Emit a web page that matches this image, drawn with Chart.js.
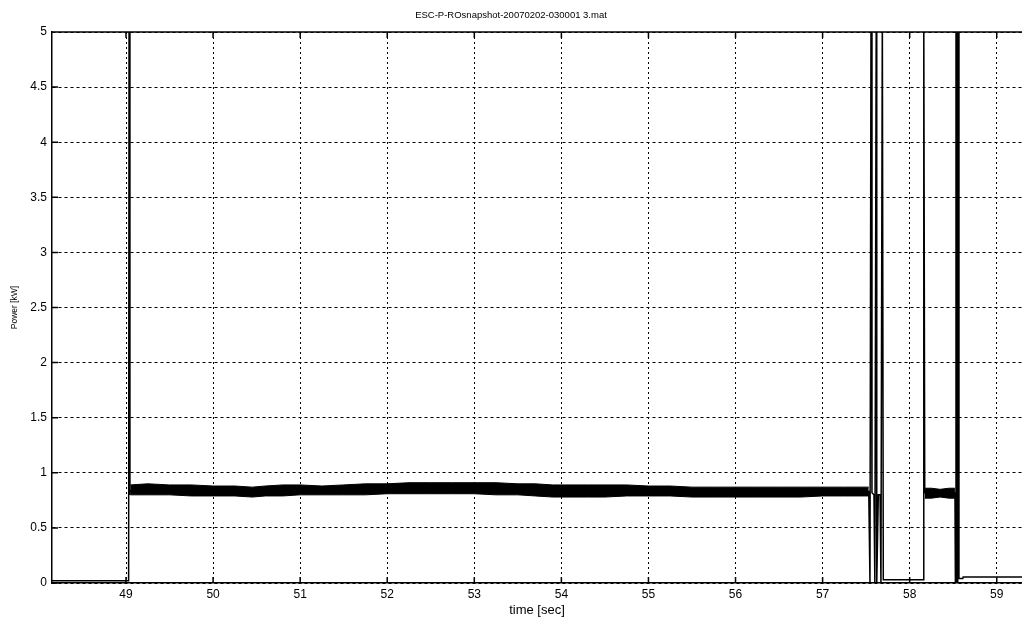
<!DOCTYPE html>
<html>
<head>
<meta charset="utf-8">
<title>ESC-P-ROsnapshot power</title>
<script src="https://cdn.jsdelivr.net/npm/chart.js@4/dist/chart.umd.min.js"></script>
<style>
  html, body { margin: 0; padding: 0; background: #fff; }
  canvas { display: block; }
</style>
</head>
<body>
<canvas id="powerChart" width="1022" height="617"></canvas>
<script>
// tick labels
const xTicks = [49, 50, 51, 52, 53, 54, 55, 56, 57, 58, 59];
const yTicks = [0, 0.5, 1, 1.5, 2, 2.5, 3, 3.5, 4, 4.5, 5];

// main trace: idle, switch-on spike, switching burst at ~57.6 s, off at ~58.55 s
const traceTime = [48.15, 49.03, 49.035, 49.045, 49.05, 57.53, 57.544, 57.556, 57.567, 57.59, 57.6,
  57.616, 57.622, 57.64, 57.66, 57.67, 57.686, 57.697, 58.155, 58.162, 58.173, 58.52, 58.525,
  58.532, 58.538, 58.545, 58.552, 58.558, 58.566, 58.61, 58.615, 59.29];
const tracePower = [0.02, 0.02, 5.2, 0.8, 0.84, 0.83, 0.0, 5.2, 0.82, 0.8, 0.0,
  5.2, 0.0, 0.8, 0.8, 0.0, 5.2, 0.03, 0.03, 5.2, 0.82, 0.82, 0.0,
  5.2, 0.0, 5.2, 0.0, 5.2, 0.04, 0.04, 0.055, 0.055];

// noisy running band (upper / lower envelope), 49.05 .. 57.53 s
const bandTime = [49.05, 49.25, 49.5, 49.75, 50.0, 50.25, 50.45, 50.6, 50.8, 51.0, 51.25, 51.5,
  51.75, 52.0, 52.25, 52.5, 52.75, 53.0, 53.25, 53.5, 53.7, 53.9, 54.1, 54.3, 54.5, 54.75, 55.0,
  55.25, 55.5, 55.75, 56.0, 56.25, 56.5, 56.75, 57.0, 57.25, 57.53];
const bandHigh = [0.89, 0.9, 0.89, 0.89, 0.88, 0.88, 0.87, 0.88, 0.89, 0.89, 0.88, 0.89,
  0.9, 0.9, 0.91, 0.91, 0.91, 0.91, 0.91, 0.9, 0.9, 0.89, 0.89, 0.89, 0.89, 0.89, 0.88,
  0.88, 0.87, 0.87, 0.87, 0.87, 0.87, 0.87, 0.87, 0.87, 0.87];
const bandLow = [0.8, 0.8, 0.8, 0.79, 0.79, 0.79, 0.78, 0.79, 0.79, 0.8, 0.8, 0.8,
  0.8, 0.81, 0.81, 0.81, 0.81, 0.81, 0.8, 0.8, 0.79, 0.78, 0.78, 0.78, 0.78, 0.79, 0.79,
  0.79, 0.78, 0.78, 0.78, 0.78, 0.78, 0.78, 0.79, 0.79, 0.79];

// short second band between 58.17 and 58.52 s
const band2Time = [58.173, 58.25, 58.35, 58.45, 58.52];
const band2High = [0.86, 0.86, 0.85, 0.86, 0.86];
const band2Low = [0.77, 0.77, 0.78, 0.77, 0.77];

const pts = (xs, ys) => xs.map((x, i) => ({ x: x, y: ys[i] }));

// MATLAB-like box: top edge and inward tick marks
const frame = {
  id: "frame",
  afterDatasetsDraw(chart) {
    const { ctx, chartArea: a, scales: { x, y } } = chart;
    ctx.save();
    ctx.strokeStyle = "#000";
    ctx.lineWidth = 1.5;
    ctx.beginPath();
    ctx.moveTo(a.left, a.top);
    ctx.lineTo(a.right, a.top);
    yTicks.forEach((v) => {
      const py = y.getPixelForValue(v);
      ctx.moveTo(a.left, py);
      ctx.lineTo(a.left + 6, py);
    });
    xTicks.forEach((v) => {
      const px = x.getPixelForValue(v);
      ctx.moveTo(px, a.bottom);
      ctx.lineTo(px, a.bottom - 6);
      ctx.moveTo(px, a.top);
      ctx.lineTo(px, a.top + 6);
    });
    ctx.stroke();
    ctx.restore();
  },
};

const ctx = document.getElementById("powerChart").getContext("2d");
new Chart(ctx, {
  type: "line",
  data: {
    datasets: [
      { data: pts(traceTime, tracePower), borderColor: "#000", borderWidth: 1.5, pointRadius: 0, fill: false, order: 0 },
      { data: pts(bandTime, bandHigh), borderColor: "#000", borderWidth: 1, pointRadius: 0, fill: false, order: 1 },
      { data: pts(bandTime, bandLow), borderColor: "#000", borderWidth: 1, pointRadius: 0, fill: "-1", backgroundColor: "#000", order: 1 },
      { data: pts(band2Time, band2High), borderColor: "#000", borderWidth: 1, pointRadius: 0, fill: false, order: 1 },
      { data: pts(band2Time, band2Low), borderColor: "#000", borderWidth: 1, pointRadius: 0, fill: "-1", backgroundColor: "#000", order: 1 },
    ],
  },
  options: {
    responsive: false,
    animation: false,
    devicePixelRatio: 1,
    layout: { padding: 0 },
    plugins: {
      legend: { display: false },
      tooltip: { enabled: false },
      title: {
        display: true,
        text: "ESC-P-ROsnapshot-20070202-030001 3.mat",
        color: "#000",
        font: { family: "'Liberation Sans', Arial, sans-serif", size: 9.5, weight: "normal" },
        padding: { top: 10, bottom: 10.6 },
      },
    },
    scales: {
      x: {
        type: "linear",
        min: 48.15,
        max: 59.29,
        afterBuildTicks: (s) => { s.ticks = xTicks.map((v) => ({ value: v })); },
        afterFit: (s) => { s.height = 34; },
        ticks: {
          autoSkip: false,
          maxRotation: 0,
          padding: 4,
          color: "#000",
          font: { family: "'Liberation Sans', Arial, sans-serif", size: 12 },
          callback: (v) => String(v),
        },
        grid: { color: "#000", lineWidth: 1, drawTicks: false },
        border: { display: true, color: "#000", width: 1.5, dash: [2, 3] },
        title: {
          display: true,
          text: "time [sec]",
          color: "#000",
          padding: 0,
          font: { family: "'Liberation Sans', Arial, sans-serif", size: 13, lineHeight: 1 },
        },
      },
      y: {
        type: "linear",
        min: 0,
        max: 5,
        afterBuildTicks: (s) => { s.ticks = yTicks.map((v) => ({ value: v })); },
        afterFit: (s) => { s.width = 52; },
        ticks: {
          padding: 5,
          color: "#000",
          font: { family: "'Liberation Sans', Arial, sans-serif", size: 12 },
          callback: (v) => String(v),
        },
        grid: { color: "#000", lineWidth: 1, drawTicks: false },
        border: { display: true, color: "#000", width: 1.5, dash: [3, 3] },
        title: {
          display: true,
          text: "Power [kW]",
          color: "#000",
          padding: { top: 10 },
          font: { family: "'Liberation Sans', Arial, sans-serif", size: 8.5 },
        },
      },
    },
  },
  plugins: [frame],
});
</script>
</body>
</html>
